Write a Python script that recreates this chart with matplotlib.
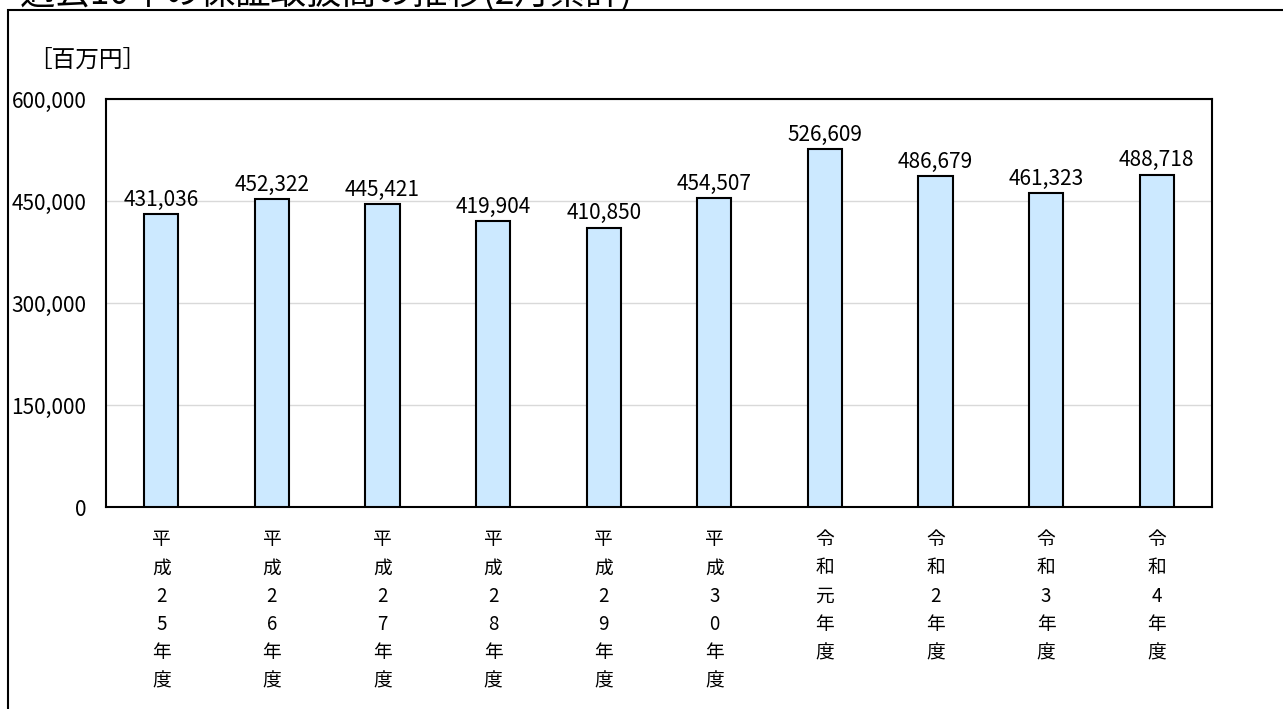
import matplotlib
matplotlib.use('Agg')
import matplotlib.pyplot as plt
from matplotlib.patches import Rectangle

plt.rcParams['font.family'] = ['Noto Sans CJK JP', 'DejaVu Sans']

years = ['平成25年度', '平成26年度', '平成27年度', '平成28年度', '平成29年度',
         '平成30年度', '令和元年度', '令和2年度', '令和3年度', '令和4年度']
values = [431036, 452322, 445421, 419904, 410850,
          454507, 526609, 486679, 461323, 488718]
yticks = [0, 150000, 300000, 450000, 600000]

title = '過去10年の保証取扱高の推移(2月累計)'
unit = '［百万円］'

fig = plt.figure(figsize=(12.83, 7.09), dpi=100)

# outer frame, runs off the right and bottom edges like the reference
frame = Rectangle((8 / 1283, -0.05), 1.05, 1.05 - 10 / 709,
                  transform=fig.transFigure, fill=False, edgecolor='black',
                  linewidth=1.5, zorder=0)
fig.patches.append(frame)
# title is cropped at the top in the reference
fig.text(20 / 1283, 1 + 7 / 709, title, fontsize=25.5, ha='left', va='center')
fig.text(28 / 1283, 1 - 60 / 709, unit, fontsize=17, ha='left', va='center')

ax = fig.add_axes([106 / 1283, 1 - 507 / 709, 1106 / 1283, 408 / 709])
x = range(len(years))
bars = ax.bar(x, values, width=0.31, color='#cce9ff', edgecolor='black',
              linewidth=1.5, zorder=3)
for xi, v in zip(x, values):
    ax.text(xi, v + 5000, f'{v:,}', ha='center', va='bottom', fontsize=15)

ax.set_xlim(-0.5, len(years) - 0.5)
ax.set_ylim(0, 600000)
ax.set_yticks(yticks)
ax.set_yticklabels([f'{t:,}' for t in yticks], fontsize=15)
ax.set_xticks(list(x))
ax.set_xticklabels(['\n'.join(y) for y in years], fontsize=13.5,
                   linespacing=1.45, va='top')
ax.tick_params(axis='both', length=0)
ax.tick_params(axis='y', pad=14)
ax.tick_params(axis='x', pad=16)
ax.grid(axis='y', color='#d9d9d9', linewidth=1, zorder=0)
for s in ax.spines.values():
    s.set_linewidth(1.5)
    s.set_color('black')

fig.savefig('out.png', dpi=100)
